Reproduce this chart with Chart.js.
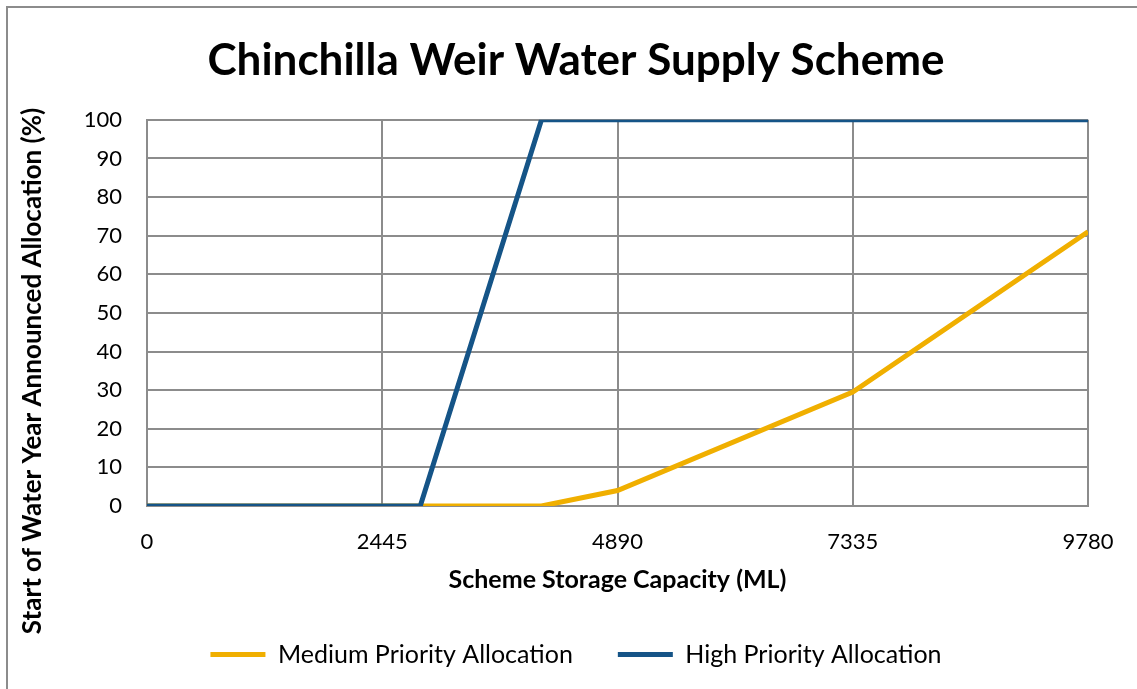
<!DOCTYPE html>
<html lang="en">
<head>
  <meta charset="UTF-8">
  <title>Chinchilla Weir Water Supply Scheme</title>
  <script src="https://cdn.jsdelivr.net/npm/chart.js"></script>
  <style>
    html, body { margin: 0; padding: 0; background: #fff; }
    #wrap { width: 1137px; height: 689px; }
  </style>
</head>
<body>
  <div id="wrap"><canvas id="chart"></canvas></div>

  <script>
    // values
    const xTicks = [0, 2445, 4890, 7335, 9780];

    const highX = [0, 2840, 4100, 9780];
    const highY = [0, 0, 100, 100];

    const mediumX = [0, 4100, 4890, 7335, 9780];
    const mediumY = [0, 0, 4, 29.5, 71];

    const yTitle = 'Start of Water Year Announced Allocation (%)';

    const gold = '#f0af00';
    const blue = '#155487';
    const gridGray = '#8c8c8c';
    const font = 'Lato, "Open Sans", sans-serif';

    const toPoints = (xs, ys) => xs.map((x, i) => ({ x: x, y: ys[i] }));

    // white background and the grey frame round the chart (top and left edges show)
    const frame = {
      id: 'frame',
      beforeDraw(chart) {
        const ctx = chart.ctx;
        ctx.save();
        ctx.fillStyle = '#fff';
        ctx.fillRect(0, 0, chart.width, chart.height);
        ctx.strokeStyle = '#8c8c8c';
        ctx.lineWidth = 2;
        ctx.strokeRect(7, 7, chart.width + 10, chart.height + 10);
        ctx.restore();
      }
    };

    // y title sits lower than the plot centre in the original, so draw it here
    const sideTitle = {
      id: 'sideTitle',
      afterDraw(chart) {
        const ctx = chart.ctx;
        ctx.save();
        ctx.translate(33, 371);
        ctx.rotate(-Math.PI / 2);
        ctx.font = 'bold 26px ' + font;
        ctx.fillStyle = '#000';
        ctx.textAlign = 'center';
        ctx.textBaseline = 'middle';
        ctx.fillText(yTitle, 0, 0);
        ctx.restore();
      }
    };

    Chart.defaults.font.family = font;
    Chart.defaults.color = '#000';

    new Chart(document.getElementById('chart'), {
      type: 'line',
      data: {
        datasets: [
          {
            label: 'High Priority Allocation',
            data: toPoints(highX, highY),
            borderColor: blue,
            backgroundColor: blue,
            borderWidth: 5,
            pointRadius: 0,
            tension: 0
          },
          {
            label: 'Medium Priority Allocation',
            data: toPoints(mediumX, mediumY),
            borderColor: gold,
            backgroundColor: gold,
            borderWidth: 5,
            pointRadius: 0,
            tension: 0
          }
        ]
      },
      options: {
        responsive: true,
        maintainAspectRatio: false,
        animation: false,
        layout: { padding: { left: 15, right: 0, top: 0, bottom: 12 } },
        plugins: {
          title: {
            display: true,
            text: 'Chinchilla Weir Water Supply Scheme',
            font: { size: 44, weight: 'bold' },
            padding: { top: 34, bottom: 33 }
          },
          legend: {
            position: 'bottom',
            reverse: true,
            labels: {
              boxWidth: 55,
              boxHeight: 5,
              padding: 45,
              font: { size: 25 },
              generateLabels: chart =>
                Chart.defaults.plugins.legend.labels.generateLabels(chart)
                  .map(l => Object.assign(l, { lineWidth: 0 }))
            }
          },
          tooltip: { enabled: false }
        },
        scales: {
          x: {
            type: 'linear',
            min: 0,
            max: 9780,
            afterBuildTicks: scale => { scale.ticks = xTicks.map(v => ({ value: v })); },
            afterFit: scale => { scale.height = 91; },
            grid: { color: gridGray, lineWidth: 2, drawTicks: false },
            border: { color: gridGray, width: 2 },
            ticks: { padding: 23, font: { size: 22 }, maxRotation: 0, callback: v => String(v) },
            title: {
              display: true,
              text: 'Scheme Storage Capacity (ML)',
              font: { size: 25, weight: 'bold' },
              padding: { top: 0, bottom: 2 }
            }
          },
          y: {
            min: 0,
            max: 100,
            afterFit: scale => { scale.width = 132; },
            grid: { color: gridGray, lineWidth: 2, drawTicks: false },
            border: { color: gridGray, width: 2 },
            ticks: { stepSize: 10, padding: 25, font: { size: 22 } }
          },
          // empty right-hand axis: keeps the plot edge at the reference position
          spacer: {
            position: 'right',
            min: 0,
            max: 100,
            afterFit: scale => { scale.width = 49; },
            grid: { drawOnChartArea: false, drawTicks: false },
            border: { display: false },
            ticks: { display: false }
          }
        }
      },
      plugins: [frame, sideTitle]
    });
  </script>
</body>
</html>
